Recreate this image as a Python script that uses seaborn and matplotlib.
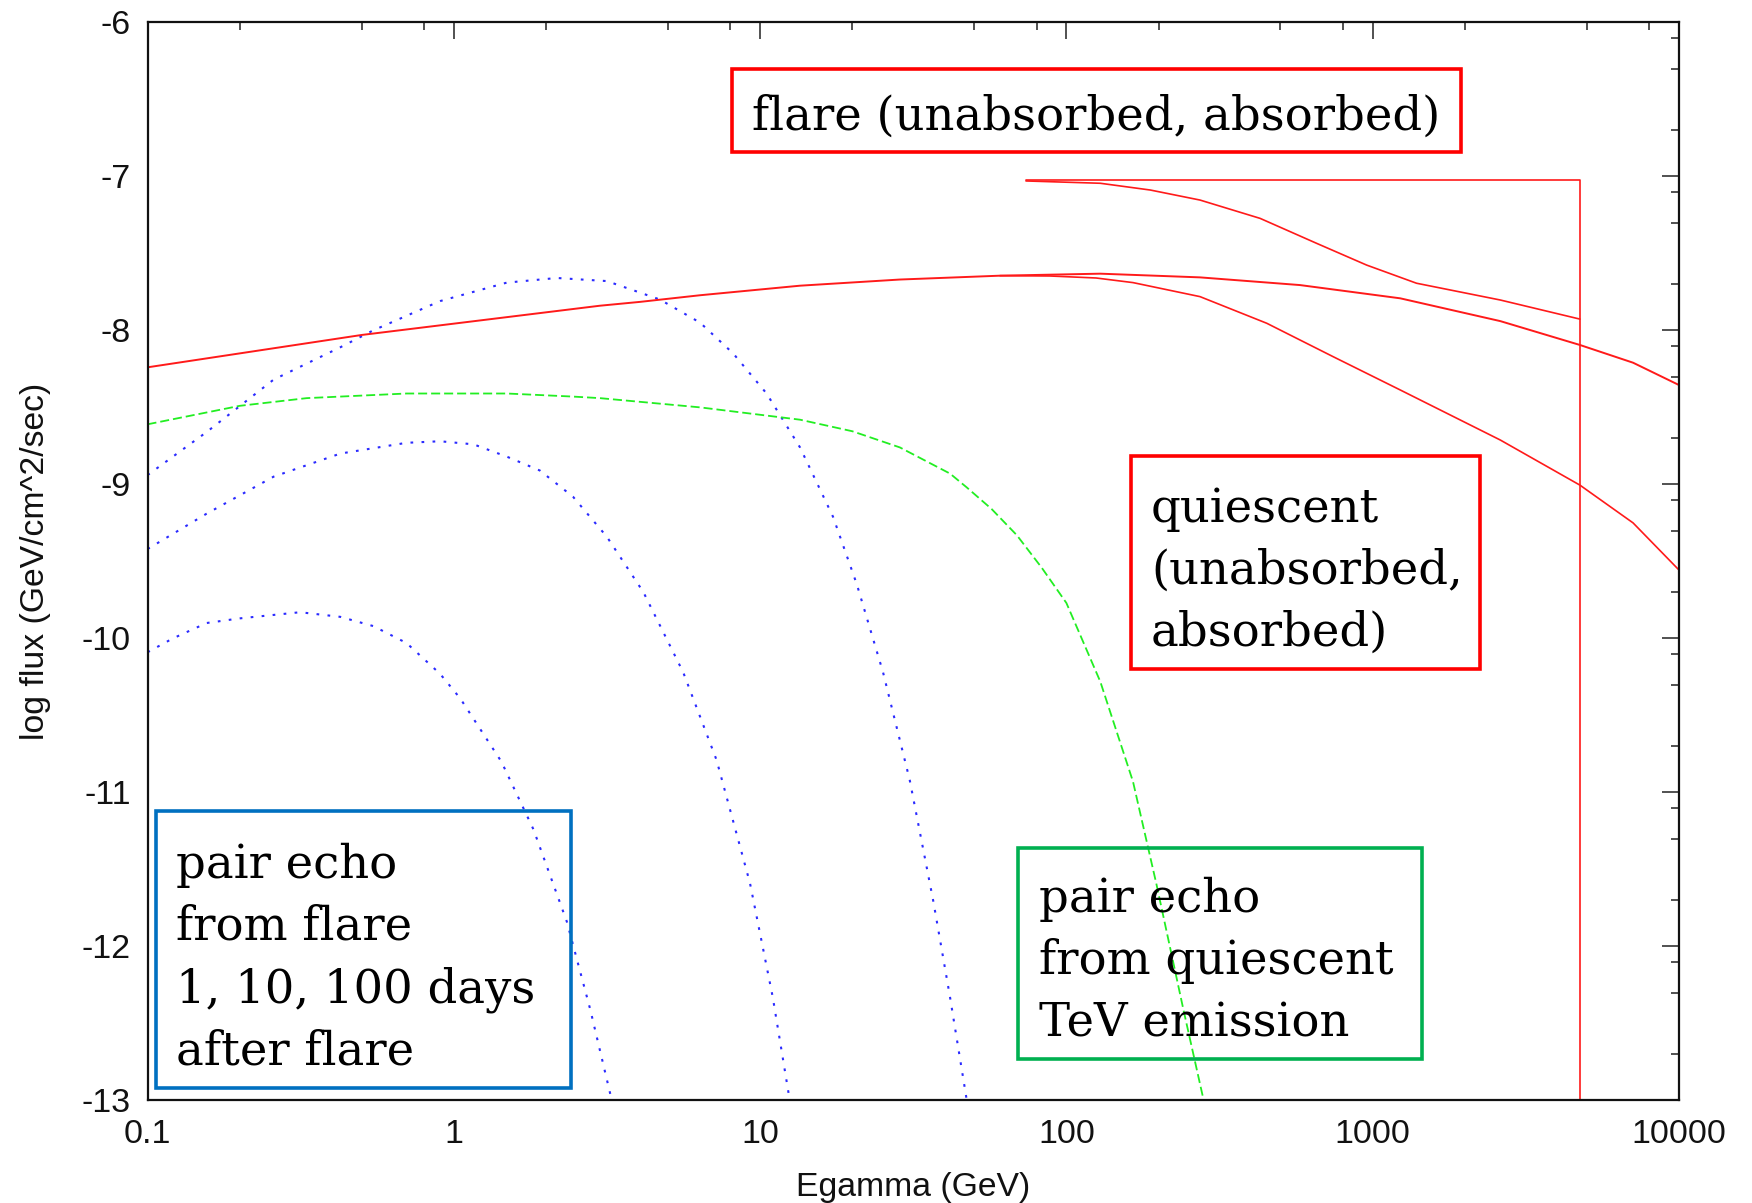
import matplotlib
matplotlib.use("Agg")
import matplotlib.pyplot as plt
import matplotlib.ticker as mticker
from matplotlib.patches import Rectangle
import seaborn as sns

# ---------------- data (energy in GeV, log10 flux in GeV/cm^2/s) ----------------
flare_unabs_E = [73.8, 4750, 4750]
flare_unabs_F = [-7.024, -7.024, -13.0]

flare_abs_E = [73.8, 129, 188, 273, 429, 656, 955, 1390, 2610, 4750]
flare_abs_F = [-7.03, -7.045, -7.089, -7.154, -7.273, -7.435, -7.576, -7.694, -7.803, -7.927]

quiet_unabs_E = [0.1, 0.5, 3.0, 4.06, 6.37, 13.5, 28.6, 60.7, 129, 273, 579, 1230, 2610, 4750, 7080, 10000]
quiet_unabs_F = [-8.24, -8.03, -7.84, -7.815, -7.772, -7.71, -7.67, -7.645, -7.632, -7.656, -7.706, -7.792,
                 -7.94, -8.095, -8.21, -8.355]

quiet_abs_E = [60.7, 88.3, 125, 165, 273, 451, 743, 1230, 2610, 4750, 7080, 10000]
quiet_abs_F = [-7.645, -7.647, -7.660, -7.690, -7.781, -7.954, -8.171, -8.387, -8.712, -9.005, -9.25, -9.556]

echo_1d_E = [0.1, 0.156, 0.258, 0.426, 0.546, 0.902, 1.49, 2.17, 3.16, 4.71, 6.37, 8.17, 10.5, 13.5,
             17.3, 20.7, 25.2, 30.8, 36.8, 41.7, 47.3]
echo_1d_F = [-8.94, -8.66, -8.32, -8.11, -8.00, -7.81, -7.69, -7.66, -7.68, -7.80, -7.95, -8.15, -8.41,
             -8.76, -9.21, -9.65, -10.22, -10.92, -11.71, -12.33, -13.0]

echo_10d_E = [0.1, 0.156, 0.258, 0.426, 0.701, 0.902, 1.16, 1.49, 1.91, 2.45, 3.16, 4.16, 5.61, 7.21,
              9.27, 11.0, 12.5]
echo_10d_F = [-9.42, -9.19, -8.95, -8.80, -8.73, -8.72, -8.74, -8.82, -8.91, -9.08, -9.34, -9.70, -10.22,
              -10.79, -11.59, -12.33, -13.0]

echo_100d_E = [0.1, 0.121, 0.156, 0.200, 0.315, 0.426, 0.546, 0.701, 0.902, 1.05, 1.43, 1.82, 2.34, 2.79, 3.28]
echo_100d_F = [-10.09, -10.00, -9.90, -9.87, -9.83, -9.86, -9.92, -10.03, -10.23, -10.39, -10.80, -11.24,
               -11.84, -12.41, -13.0]

echo_quiet_E = [0.1, 0.200, 0.331, 0.701, 1.49, 2.45, 3.00, 6.37, 13.5, 20.0, 28.6, 41.7, 47.3, 57.0, 68.9,
                83.0, 100, 129, 165, 197, 241, 280]
echo_quiet_F = [-8.61, -8.49, -8.44, -8.41, -8.41, -8.43, -8.44, -8.50, -8.58, -8.655, -8.76, -8.93, -9.02,
                -9.16, -9.33, -9.54, -9.77, -10.28, -10.93, -11.60, -12.41, -12.99]

x_ticks = [0.1, 1, 10, 100, 1000, 10000]
x_tick_labels = ["0.1", "1", "10", "100", "1000", "10000"]
y_ticks = [-13, -12, -11, -10, -9, -8, -7, -6]
y_tick_labels = ["-13", "-12", "-11", "-10", "-9", "-8", "-7", "-6"]

# ---------------- style ----------------
sns.set_style("white")
plt.rcParams["font.family"] = ["Liberation Sans", "DejaVu Sans"]
plt.rcParams["axes.unicode_minus"] = False
plt.rcParams["text.color"] = "black"

fig = plt.figure(figsize=(17.52, 12.03), dpi=100)
ax = fig.add_axes([0.08419, 0.08521, 0.87414, 0.89625])

RED = "#ff1a1a"
BLUE = "#2a2aff"
GREEN = "#22ee22"
dot = (0, (1.3, 4.0))
dash = (0, (5, 2.2))

def draw(E, F, color, ls, lw):
    sns.lineplot(x=E, y=F, ax=ax, color=color, linestyle=ls, linewidth=lw,
                 sort=False, estimator=None, legend=False)

draw(echo_1d_E, echo_1d_F, BLUE, dot, 1.5)
draw(echo_10d_E, echo_10d_F, BLUE, dot, 1.5)
draw(echo_100d_E, echo_100d_F, BLUE, dot, 1.5)
draw(echo_quiet_E, echo_quiet_F, GREEN, dash, 1.3)
draw(quiet_unabs_E, quiet_unabs_F, RED, "-", 1.4)
draw(quiet_abs_E, quiet_abs_F, RED, "-", 1.2)
draw(flare_unabs_E, flare_unabs_F, RED, "-", 1.2)
draw(flare_abs_E, flare_abs_F, RED, "-", 1.2)

ax.set_xscale("log")
ax.set_xlim(0.1, 10000)
ax.set_ylim(-13, -6)
ax.xaxis.set_major_locator(mticker.FixedLocator(x_ticks))
ax.xaxis.set_major_formatter(mticker.FixedFormatter(x_tick_labels))
ax.xaxis.set_minor_locator(mticker.LogLocator(base=10, subs=[2, 5, 8]))
ax.xaxis.set_minor_formatter(mticker.NullFormatter())
ax.yaxis.set_major_locator(mticker.FixedLocator(y_ticks))
ax.yaxis.set_major_formatter(mticker.FixedFormatter(y_tick_labels))
ymin = []
for n in range(-6, -13, -1):
    ymin += [n - 0.1, n - 0.3, n - 0.7]
ax.yaxis.set_minor_locator(mticker.FixedLocator(ymin))

ax.tick_params(which="both", direction="in", top=True, right=True, colors="#222222",
               labelcolor="#111111", width=1.1, labelsize=24.5)
ax.tick_params(which="major", length=12)
ax.tick_params(which="minor", length=6)
ax.tick_params(axis="y", pad=12)
ax.tick_params(axis="x", pad=13)
for s in ax.spines.values():
    s.set_linewidth(1.6)
    s.set_color("#111111")

ax.set_xlabel("Egamma (GeV)", fontsize=24.3, labelpad=16, color="#111111")
ax.set_ylabel("log flux (GeV/cm^2/sec)", fontsize=24.3, labelpad=22, color="#111111")

# ---------------- annotation boxes ----------------
serif = ["DejaVu Serif"]
FS = 33.5
LS = 1.47

def box(x0, y0, w, h, color):
    fig.add_artist(Rectangle((x0, y0), w, h, transform=fig.transFigure, fill=False,
                             edgecolor=color, linewidth=2.6, zorder=5))

box(0.4178, 0.8736, 0.4161, 0.0690, "#ff0000")
fig.text(0.4292, 0.9024, "flare (unabsorbed, absorbed)", family=serif, fontsize=FS,
         va="center", ha="left", color="black")

box(0.6454, 0.4436, 0.1996, 0.1774, "#ff0000")
fig.text(0.657, 0.5251, "quiescent\n(unabsorbed,\nabsorbed)", family=serif, fontsize=FS,
         va="center", ha="left", linespacing=LS, color="black")

box(0.0893, 0.09535, 0.2366, 0.2303, "#0070c0")
fig.text(0.1007, 0.2033, "pair echo\nfrom flare\n1, 10, 100 days\nafter flare", family=serif,
         fontsize=FS, va="center", ha="left", linespacing=LS, color="black")

box(0.5810, 0.1195, 0.2308, 0.1756, "#00b050")
fig.text(0.5930, 0.2009, "pair echo\nfrom quiescent\nTeV emission", family=serif, fontsize=FS,
         va="center", ha="left", linespacing=LS, color="black")

fig.savefig("out.png", dpi=100, facecolor="white")
